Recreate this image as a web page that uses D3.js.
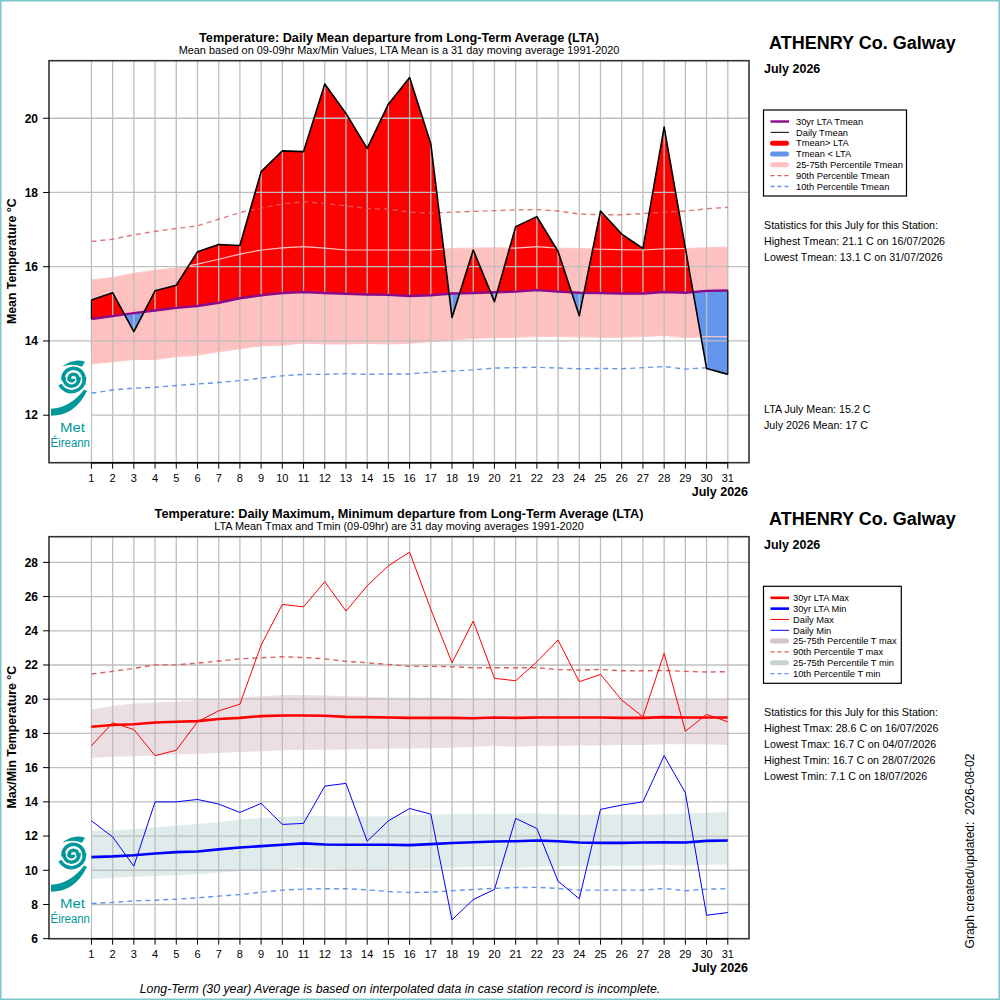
<!DOCTYPE html>
<html>
<head>
<meta charset="utf-8">
<script src="https://cdn.jsdelivr.net/npm/d3@7"></script>
<style>
  body { margin: 0; background: #fff; }
  svg { display: block; font-family: "Liberation Sans", Arial, sans-serif; }
</style>
</head>
<body>
<div id="chart"></div>
<script>
// Day of month (x categories)
const days = [1,2,3,4,5,6,7,8,9,10,11,12,13,14,15,16,17,18,19,20,21,22,23,24,25,26,27,28,29,30,31];

// Top panel: daily mean temperature and its long-term statistics
const tmeanDaily = [15.1,15.3,14.25,15.35,15.5,16.4,16.6,16.57,18.56,19.12,19.1,20.92,20.13,19.19,20.38,21.1,
  19.31,14.63,16.45,15.06,17.08,17.35,16.41,14.68,17.5,16.88,16.49,19.76,16.5,13.26,13.1];
const tmeanLta = [14.59,14.67,14.75,14.82,14.89,14.94,15.03,15.15,15.23,15.29,15.32,15.29,15.27,15.25,15.24,15.21,
  15.23,15.28,15.29,15.31,15.33,15.37,15.33,15.30,15.29,15.28,15.28,15.32,15.30,15.35,15.36];
const tmeanP75 = [15.64,15.71,15.82,15.9,15.96,16.07,16.2,16.34,16.45,16.51,16.54,16.5,16.45,16.45,16.45,16.45,
  16.45,16.49,16.5,16.51,16.5,16.54,16.5,16.49,16.47,16.46,16.45,16.48,16.49,16.51,16.53];
const tmeanP25 = [13.38,13.44,13.5,13.5,13.58,13.62,13.71,13.79,13.87,13.89,13.95,13.92,13.92,13.94,13.92,13.94,
  13.98,14.03,14.07,14.09,14.1,14.12,14.12,14.11,14.1,14.1,14.12,14.15,14.09,14.12,14.11];
const tmeanP90 = [16.68,16.74,16.86,16.95,17.03,17.1,17.28,17.46,17.58,17.69,17.75,17.7,17.64,17.57,17.55,17.47,
  17.44,17.47,17.49,17.51,17.53,17.54,17.5,17.42,17.4,17.4,17.43,17.47,17.5,17.56,17.6];
const tmeanP10 = [12.59,12.68,12.73,12.75,12.8,12.84,12.88,12.93,13.0,13.06,13.1,13.1,13.12,13.1,13.11,13.11,
  13.16,13.19,13.22,13.27,13.28,13.29,13.27,13.25,13.26,13.25,13.28,13.31,13.24,13.28,13.28];
const meanTicks = [12,14,16,18,20];

// Bottom panel: daily max / min and their long-term statistics
const tmaxDaily = [17.28,18.62,18.23,16.7,17.02,18.68,19.32,19.71,23.16,25.54,25.4,26.87,25.15,26.63,27.8,28.6,
  25.25,22.13,24.57,21.22,21.08,22.19,23.46,21.02,21.45,19.95,18.97,22.68,18.13,19.11,18.68];
const tminDaily = [12.89,11.95,10.24,14.0,14.0,14.14,13.87,13.38,13.91,12.68,12.74,14.92,15.08,11.7,12.89,13.61,
  13.28,7.1,8.29,8.88,13.03,12.44,9.36,8.33,13.56,13.81,14.0,16.7,14.53,7.37,7.53];
const tmaxLta = [18.39,18.49,18.54,18.64,18.68,18.72,18.84,18.91,19.01,19.05,19.05,19.03,18.97,18.95,18.93,18.91,
  18.91,18.91,18.89,18.93,18.91,18.93,18.93,18.93,18.93,18.91,18.91,18.95,18.93,18.93,18.93];
const tminLta = [10.77,10.81,10.88,10.98,11.06,11.1,11.22,11.33,11.41,11.49,11.57,11.51,11.49,11.49,11.49,11.47,
  11.53,11.59,11.64,11.68,11.7,11.74,11.7,11.62,11.6,11.6,11.62,11.64,11.62,11.72,11.74];
const tmaxP75 = [19.42,19.6,19.75,19.81,19.85,19.95,20.0,20.1,20.18,20.24,20.24,20.22,20.18,20.14,20.1,20.08,
  20.08,20.04,20.02,20.02,20.06,20.06,20.06,20.04,20.02,20.04,20.06,20.08,20.02,19.98,19.98];
const tmaxP25 = [16.57,16.63,16.67,16.71,16.77,16.8,16.86,16.92,16.96,17.02,17.04,17.04,17.06,17.08,17.1,17.12,
  17.14,17.16,17.22,17.26,17.22,17.26,17.26,17.3,17.3,17.32,17.32,17.36,17.36,17.36,17.32];
const tminP75 = [12.3,12.34,12.4,12.5,12.6,12.7,12.81,12.97,13.06,13.12,13.18,13.16,13.14,13.14,13.16,13.22,
  13.26,13.28,13.28,13.28,13.32,13.32,13.28,13.24,13.26,13.26,13.24,13.28,13.32,13.36,13.4];
const tminP25 = [9.48,9.56,9.62,9.66,9.71,9.77,9.87,9.95,10.0,10.06,10.12,10.1,10.08,10.08,10.08,10.1,
  10.12,10.16,10.2,10.24,10.14,10.2,10.24,10.26,10.26,10.26,10.28,10.32,10.28,10.32,10.34];
const tmaxP90 = [21.47,21.63,21.8,22.01,22.01,22.11,22.23,22.36,22.42,22.48,22.44,22.36,22.21,22.13,22.03,21.92,
  21.92,21.9,21.84,21.84,21.84,21.84,21.74,21.7,21.74,21.66,21.66,21.68,21.63,21.59,21.61];
const tminP10 = [8.06,8.12,8.21,8.25,8.31,8.39,8.49,8.58,8.72,8.84,8.9,8.92,8.92,8.86,8.76,8.7,
  8.72,8.8,8.88,8.94,8.99,9.0,8.94,8.84,8.84,8.84,8.84,8.94,8.8,8.9,8.92];
const maxMinTicks = [6,8,10,12,14,16,18,20,22,24,26,28];

// Side texts
const meanStats = ["Statistics for this July for this Station:",
  "Highest Tmean: 21.1 C on 16/07/2026", "Lowest Tmean: 13.1 C on 31/07/2026"];
const meanSummary = ["LTA July Mean: 15.2 C", "July 2026 Mean: 17 C"];
const maxMinStats = ["Statistics for this July for this Station:",
  "Highest Tmax: 28.6 C on 16/07/2026", "Lowest Tmax: 16.7 C on 04/07/2026",
  "Highest Tmin: 16.7 C on 28/07/2026", "Lowest Tmin: 7.1 C on 18/07/2026"];

const teal = "#00979b";
const gridColor = "#bebebe";
const pctRed = "#d96060";
const pctBlue = "#6495ed";

const width = 1000, height = 1000;
const svg = d3.select("#chart").append("svg")
    .attr("width", width)
    .attr("height", height);

svg.append("rect").attr("width", width).attr("height", height).attr("fill", "#fff");
svg.append("rect")
    .attr("x", 0.75).attr("y", 0.75)
    .attr("width", width - 1.5).attr("height", height - 1.5)
    .attr("fill", "none").attr("stroke", "#7cc6cc").attr("stroke-width", 1.5);

const x = d3.scaleLinear().domain([-1, 32]).range([49, 749]);
const rows = days.map((d, i) => i);

function line(y, values) {
  return d3.line().x(i => x(days[i])).y(i => y(values[i]))(rows);
}
function band(y, lo, hi) {
  return d3.area().x(i => x(days[i])).y0(i => y(lo[i])).y1(i => y(hi[i]))(rows);
}

function frame(g, y, top, bottom, ticks) {
  // grid
  g.append("g").selectAll("line").data(days).join("line")
      .attr("x1", d => x(d)).attr("x2", d => x(d))
      .attr("y1", top).attr("y2", bottom)
      .attr("stroke", gridColor).attr("stroke-width", 1.3);
  g.append("g").selectAll("line").data(ticks).join("line")
      .attr("x1", x.range()[0]).attr("x2", x.range()[1])
      .attr("y1", d => y(d)).attr("y2", d => y(d))
      .attr("stroke", gridColor).attr("stroke-width", 1.3);
}

function axes(g, y, top, bottom, ticks, yTitle) {
  g.append("rect")
      .attr("x", x.range()[0]).attr("y", top)
      .attr("width", x.range()[1] - x.range()[0]).attr("height", bottom - top)
      .attr("fill", "none").attr("stroke", "#333").attr("stroke-width", 1.6);
  // x axis ticks and labels
  g.append("line")
      .attr("x1", x(1)).attr("x2", x(31)).attr("y1", bottom).attr("y2", bottom)
      .attr("stroke", "#000").attr("stroke-width", 1.6);
  g.append("g").selectAll("line").data(days).join("line")
      .attr("x1", d => x(d)).attr("x2", d => x(d))
      .attr("y1", bottom).attr("y2", bottom + 6)
      .attr("stroke", "#000").attr("stroke-width", 1);
  g.append("g").selectAll("text").data(days).join("text")
      .attr("x", d => x(d)).attr("y", bottom + 19.5)
      .attr("text-anchor", "middle").attr("font-size", 11)
      .text(d => d);
  g.append("text")
      .attr("x", 748).attr("y", bottom + 33.5)
      .attr("text-anchor", "end").attr("font-size", 12.5).attr("font-weight", "bold")
      .text("July 2026");
  // y axis
  g.append("g").selectAll("line").data(ticks).join("line")
      .attr("x1", x.range()[0] - 6).attr("x2", x.range()[0])
      .attr("y1", d => y(d)).attr("y2", d => y(d))
      .attr("stroke", "#000").attr("stroke-width", 1);
  g.append("g").selectAll("text").data(ticks).join("text")
      .attr("x", 38).attr("y", d => y(d) + 4.3)
      .attr("text-anchor", "end").attr("font-size", 12).attr("font-weight", "bold")
      .text(d => d);
  const yc = (top + bottom) / 2 - 0.5;
  g.append("text")
      .attr("transform", `translate(15.5,${yc}) rotate(-90)`)
      .attr("text-anchor", "middle").attr("font-size", 12.3).attr("font-weight", "bold")
      .text(yTitle);
}

function logo(g, bottom) {
  const cx = 72, cy = bottom - 84;
  const lg = g.append("g");
  lg.append("rect").attr("x", 50).attr("y", bottom - 110)
      .attr("width", 41).attr("height", 96).attr("fill", "#fff");
  const p = d3.path();
  p.moveTo(cx + 1.5, cy);
  p.arc(cx - 0.5, cy, 2, 0, Math.PI, false);
  p.arc(cx + 1.5, cy, 4.5, Math.PI, 0, false);
  p.arc(cx - 0.5, cy, 7.5, 0, Math.PI, false);
  p.arc(cx + 1.5, cy, 10.5, Math.PI, 0, false);
  p.arc(cx - 0.5, cy, 13, 0, Math.PI * 0.85, false);
  lg.append("path").attr("d", p.toString())
      .attr("fill", "none").attr("stroke", teal).attr("stroke-width", 3.6);
  // outer arm hook at the top
  lg.append("path")
      .attr("d", `M${cx - 10},${cy - 12} Q${cx + 2},${cy - 21} ${cx + 13},${cy - 17} L${cx + 10},${cy - 12} Q${cx},${cy - 16} ${cx - 10},${cy - 12} Z`)
      .attr("fill", teal);
  // swoosh tail
  lg.append("path")
      .attr("d", `M${cx - 21},${cy + 30} Q${cx - 2},${cy + 29} ${cx + 12},${cy + 11} L${cx + 15},${cy + 12} Q${cx + 3},${cy + 37} ${cx - 21},${cy + 37} Z`)
      .attr("fill", teal);
  lg.append("text").attr("x", 60).attr("y", bottom - 31)
      .attr("font-size", 12.5).attr("fill", teal)
      .attr("textLength", 25).attr("lengthAdjust", "spacingAndGlyphs")
      .text("Met");
  lg.append("text").attr("x", 50.5).attr("y", bottom - 16)
      .attr("font-size", 12.5).attr("fill", teal)
      .attr("textLength", 39.5).attr("lengthAdjust", "spacingAndGlyphs")
      .text("Éireann");
}

function header(g, titleY, title, subtitle, sideY) {
  g.append("text").attr("x", 399).attr("y", titleY)
      .attr("text-anchor", "middle").attr("font-size", 12.7).attr("font-weight", "bold")
      .text(title);
  g.append("text").attr("x", 399).attr("y", titleY + 12)
      .attr("text-anchor", "middle").attr("font-size", 10.9)
      .text(subtitle);
  g.append("text").attr("x", 769).attr("y", sideY)
      .attr("font-size", 18).attr("font-weight", "bold")
      .text("ATHENRY Co. Galway");
  g.append("text").attr("x", 764).attr("y", sideY + 24)
      .attr("font-size", 12.5).attr("font-weight", "bold")
      .text("July 2026");
}

function legend(g, box, items) {
  g.append("rect").attr("x", box.x).attr("y", box.y)
      .attr("width", box.w).attr("height", box.h)
      .attr("fill", "#fff").attr("stroke", "#000").attr("stroke-width", 1.2);
  const row = g.append("g").selectAll("g").data(items).join("g")
      .attr("transform", (d, i) => `translate(0,${box.y + 11.5 + i * 10.83})`);
  row.append("line")
      .attr("x1", d => d.thick ? box.x + 9 : box.x + 7)
      .attr("x2", d => d.thick ? box.x + 23 : box.x + 25.5)
      .attr("stroke", d => d.color)
      .attr("stroke-width", d => d.w)
      .attr("stroke-linecap", d => d.thick ? "round" : "butt")
      .attr("stroke-dasharray", d => d.dash ? "4,3" : null);
  row.append("text")
      .attr("x", box.x + box.tx).attr("y", 3.3)
      .attr("font-size", 9.3)
      .text(d => d.label);
}

function sideText(g, lines, y0) {
  g.append("g").selectAll("text").data(lines).join("text")
      .attr("x", 764).attr("y", (d, i) => y0 + i * 16)
      .attr("font-size", 10.7)
      .text(d => d);
}

// ---------- Top panel: daily mean ----------
{
  const top = 60.7, bottom = 462.7;
  const y = d3.scaleLinear().domain([10.72, 21.55]).range([bottom, top]);
  const g = svg.append("g");

  const defs = g.append("defs");
  defs.append("clipPath").attr("id", "above")
    .append("path").attr("d", d3.area().x(i => x(days[i])).y0(top).y1(i => y(tmeanLta[i]))(rows));
  defs.append("clipPath").attr("id", "below")
    .append("path").attr("d", d3.area().x(i => x(days[i])).y0(bottom).y1(i => y(tmeanLta[i]))(rows));

  g.append("path").attr("d", band(y, tmeanP25, tmeanP75)).attr("fill", "#ffc0c0");

  const diff = d3.area().x(i => x(days[i])).y0(i => y(tmeanLta[i])).y1(i => y(tmeanDaily[i]))(rows);
  g.append("path").attr("d", diff).attr("fill", "#ff0000").attr("clip-path", "url(#above)");
  g.append("path").attr("d", diff).attr("fill", pctBlue).attr("clip-path", "url(#below)");

  g.append("path").attr("d", line(y, tmeanP75)).attr("fill", "none").attr("stroke", "#ffc8c8").attr("stroke-width", 1.2);
  g.append("path").attr("d", line(y, tmeanP25)).attr("fill", "none").attr("stroke", "#ffc8c8").attr("stroke-width", 1.2);

  frame(g, y, top, bottom, meanTicks);

  g.append("path").attr("d", line(y, tmeanP90)).attr("fill", "none")
      .attr("stroke", pctRed).attr("stroke-width", 1.4).attr("stroke-dasharray", "5,4").attr("stroke-opacity", 0.85);
  g.append("path").attr("d", line(y, tmeanP10)).attr("fill", "none")
      .attr("stroke", pctBlue).attr("stroke-width", 1.4).attr("stroke-dasharray", "5,4");
  g.append("path").attr("d", line(y, tmeanLta)).attr("fill", "none")
      .attr("stroke", "#8b0a8b").attr("stroke-width", 2.4);
  // polygon end edges
  g.append("g").selectAll("line").data([0, 30]).join("line")
      .attr("x1", i => x(days[i])).attr("x2", i => x(days[i]))
      .attr("y1", i => y(tmeanLta[i])).attr("y2", i => y(tmeanDaily[i]))
      .attr("stroke", "#000").attr("stroke-width", 1.2);
  g.append("path").attr("d", line(y, tmeanDaily)).attr("fill", "none")
      .attr("stroke", "#000").attr("stroke-width", 1.6).attr("stroke-linejoin", "round");

  logo(g, bottom);
  axes(g, y, top, bottom, meanTicks, "Mean Temperature °C");
  header(g, 42, "Temperature: Daily Mean departure from Long-Term Average (LTA)",
    "Mean based on 09-09hr Max/Min Values, LTA Mean is a 31 day moving average 1991-2020", 48.5);
  legend(g, {x: 763.5, y: 110, w: 143, h: 86, tx: 32.5}, [
    {label: "30yr LTA Tmean", color: "#8b0a8b", w: 2.4},
    {label: "Daily Tmean", color: "#000", w: 1},
    {label: "Tmean> LTA", color: "#ff0000", w: 5, thick: true},
    {label: "Tmean < LTA", color: pctBlue, w: 5, thick: true},
    {label: "25-75th Percentile Tmean", color: "#ffc0c0", w: 5, thick: true},
    {label: "90th Percentile Tmean", color: pctRed, w: 1.3, dash: true},
    {label: "10th Percentile Tmean", color: pctBlue, w: 1.3, dash: true}
  ]);
  sideText(g, meanStats, 229);
  sideText(g, meanSummary, 413);
}

// ---------- Bottom panel: daily max / min ----------
{
  const top = 536.7, bottom = 938.7;
  const y = d3.scaleLinear().domain([6, 29.5]).range([bottom, top]);
  const g = svg.append("g");

  g.append("path").attr("d", band(y, tmaxP25, tmaxP75)).attr("fill", "#ecdfe4");
  g.append("path").attr("d", band(y, tminP25, tminP75)).attr("fill", "#dfeceb");

  frame(g, y, top, bottom, maxMinTicks);

  g.append("path").attr("d", line(y, tmaxP90)).attr("fill", "none")
      .attr("stroke", pctRed).attr("stroke-width", 1.4).attr("stroke-dasharray", "5,4");
  g.append("path").attr("d", line(y, tminP10)).attr("fill", "none")
      .attr("stroke", pctBlue).attr("stroke-width", 1.4).attr("stroke-dasharray", "5,4");
  g.append("path").attr("d", line(y, tmaxLta)).attr("fill", "none")
      .attr("stroke", "#ff0000").attr("stroke-width", 2.6);
  g.append("path").attr("d", line(y, tminLta)).attr("fill", "none")
      .attr("stroke", "#0000ff").attr("stroke-width", 2.6);
  g.append("path").attr("d", line(y, tmaxDaily)).attr("fill", "none")
      .attr("stroke", "#ff0000").attr("stroke-width", 1);
  g.append("path").attr("d", line(y, tminDaily)).attr("fill", "none")
      .attr("stroke", "#0000ff").attr("stroke-width", 1);

  logo(g, bottom);
  axes(g, y, top, bottom, maxMinTicks, "Max/Min Temperature °C");
  header(g, 518, "Temperature: Daily Maximum, Minimum departure from Long-Term Average (LTA)",
    "LTA Mean Tmax and Tmin (09-09hr) are 31 day moving averages 1991-2020", 525);
  legend(g, {x: 763.5, y: 586.3, w: 137.8, h: 97, tx: 29.5}, [
    {label: "30yr LTA Max", color: "#ff0000", w: 2.6},
    {label: "30yr LTA Min", color: "#0000ff", w: 2.6},
    {label: "Daily Max", color: "#ff0000", w: 1},
    {label: "Daily Min", color: "#0000ff", w: 1},
    {label: "25-75th Percentile T max", color: "#d6c3c9", w: 5, thick: true},
    {label: "90th Percentile T max", color: pctRed, w: 1.3, dash: true},
    {label: "25-75th Percentile T min", color: "#c8d4d4", w: 5, thick: true},
    {label: "10th Percentile T min", color: pctBlue, w: 1.3, dash: true}
  ]);
  sideText(g, maxMinStats, 716);

  svg.append("text")
      .attr("transform", "translate(974,851) rotate(-90)")
      .attr("text-anchor", "middle").attr("font-size", 12)
      .attr("xml:space", "preserve")
      .text("Graph created/updated:  2026-08-02");
  svg.append("text")
      .attr("x", 400).attr("y", 993)
      .attr("text-anchor", "middle").attr("font-size", 12.3).attr("font-style", "italic")
      .text("Long-Term (30 year) Average is based on interpolated data in case station record is incomplete.");
}
</script>
</body>
</html>
